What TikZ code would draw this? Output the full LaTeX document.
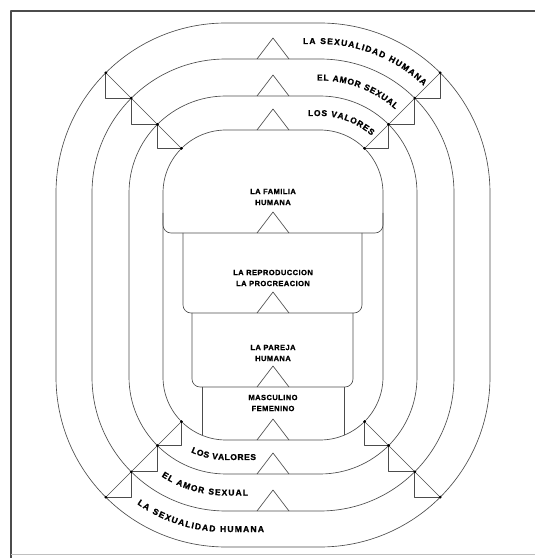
\documentclass[tikz,border=0pt]{standalone}
\usepackage{fontspec}
\usetikzlibrary{calc,decorations.text}

\newfontfamily\labfont[LetterSpace=6, FakeBold=1.2]{Liberation Sans Bold}
\newfontfamily\bandfont[FakeBold=1.2]{Liberation Sans Bold}
\newcommand\lab{\labfont\fontsize{7.5}{11}\selectfont}
\newcommand\bandlab{\bandfont\fontsize{8.5}{11}\selectfont}

\tikzset{
	ring/.style={draw=black!70, line width=0.65pt},
	boxlabel/.style={font=\lab, align=center, inner sep=0pt},
	curvelabel/.style={decorate, decoration={text along path, text align={fit to path}, text={|\bandlab|#1}}}
}

\begin{document}
\begin{tikzpicture}[x=1pt, y=1pt, line join=round]
	\useasboundingbox (0,0) rectangle (535,558);
	% frame
	\draw [black!70, line width=1.6pt] (545,547) -- (11,547) -- (11,-5);
	\draw [black!25, line width=1pt] (11,3) -- (545,3);

	% the four bands
	\foreach \r in {170,134,97,63}
		\draw [ring, rounded corners=\r pt] (226-\r,181-\r) rectangle (320+\r,365+\r);

	% diagonals across the corners
	\foreach \cx/\cy/\a in {226/365/135, 320/365/45} {
		\foreach \r [count=\i] in {170,134,97,63}
			\coordinate (d\i) at ($(\cx,\cy)+(\a:\r)$);
		\draw [ring] (d1) -- (d4);
		\foreach \i/\j in {1/2,2/3,3/4}
			\draw [ring] (d\i) -- (d\i |- d\j) -- (d\j);
		\foreach \i in {1,...,4}
			\fill (d\i) circle (1.5pt);
	}
	\foreach \cx/\cy/\a in {226/181/225, 320/181/315} {
		\foreach \r [count=\i] in {170,134,97,63}
			\coordinate (d\i) at ($(\cx,\cy)+(\a:\r)$);
		\draw [ring] (d1) -- (d4);
		\foreach \i/\j in {1/2,2/3,3/4}
			\draw [ring] (d\j) -- (d\j |- d\i) -- (d\i);
		\foreach \i in {1,...,4}
			\fill (d\i) circle (1.5pt);
	}

	% inner boxes
	\draw [ring, rounded corners=8pt] (163,345) -- (163,325) -- (383,325) -- (383,345);
	\draw [ring, rounded corners=8pt] (183,325) -- (183,245) -- (362,245) -- (362,325);
	\draw [ring, rounded corners=8pt] (192,245) -- (192,171) -- (353,171) -- (353,245);
	\draw [ring] (202,171) -- (202,122.7) (344,171) -- (344,122.7);

	% upward triangles
	\foreach \y in {499,462,428,325,245,171,118,84,47}
		\draw [ring] (257,\y) -- ++(16,21) -- ++(16,-21);

	\node [boxlabel] (familia) at (273,361) {LA FAMILIA\\HUMANA};
	\node [boxlabel] (reproduccion) at (273,280) {LA REPRODUCCION\\LA PROCREACION};
	\node [boxlabel] (pareja) at (273,205) {LA PAREJA\\HUMANA};
	\node [boxlabel] (sexos) at (273,155) {MASCULINO\\FEMENINO};

	% band names, top right
	\path [curvelabel={LA SEXUALIDAD HUMANA}] (303,514) -- (320,514) arc [start angle=90, end angle=46, radius=149];
	\path [curvelabel={EL AMOR SEXUAL}] (317,477.5) -- (320,477.5) arc [start angle=90, end angle=48, radius=112.5];
	\path [curvelabel={LOS VALORES}] (308,442) -- (320,442) arc [start angle=90, end angle=48, radius=77];
	% band names, bottom left
	\path [curvelabel={LOS VALORES}] ($(226,181)+(245:83)$) arc [start angle=245, end angle=270, radius=83] -- (256,98);
	\path [curvelabel={EL AMOR SEXUAL}] ($(226,181)+(237:118.5)$) arc [start angle=237, end angle=270, radius=118.5] -- (248,62.5);
	\path [curvelabel={LA SEXUALIDAD HUMANA}] ($(226,181)+(235:155)$) arc [start angle=235, end angle=270, radius=155] -- (264,26);
\end{tikzpicture}
\end{document}
